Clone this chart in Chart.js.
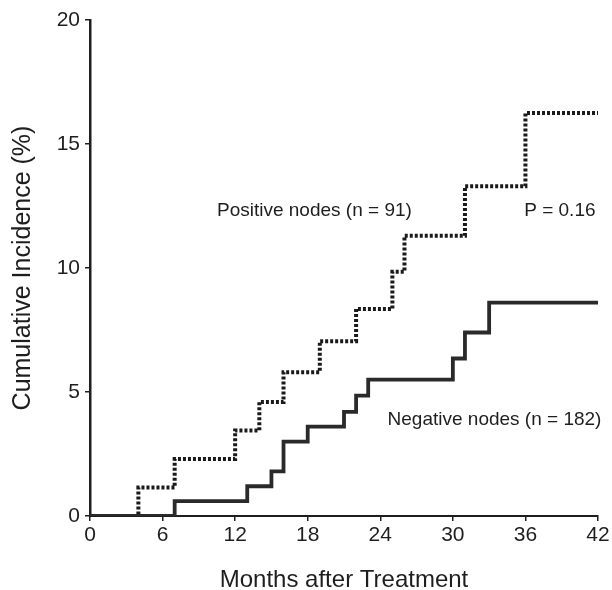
<!DOCTYPE html>
<html>
<head>
<meta charset="utf-8">
<script src="https://cdn.jsdelivr.net/npm/chart.js@4/dist/chart.umd.min.js"></script>
<style>
  html, body { margin: 0; padding: 0; background: #fff; }
  #wrap { width: 612px; height: 590px; }
</style>
</head>
<body>
<div id="wrap"><canvas id="myChart" width="612" height="590"></canvas></div>
<script>
// step points: month of the jump and the new cumulative incidence (%)
const posMonths = [0, 4, 7, 12, 14, 16, 19, 22, 25, 26, 31, 36, 42];
const posIncidence = [0, 1.15, 2.3, 3.45, 4.6, 5.8, 7.05, 8.35, 9.85, 11.3, 13.3, 16.25, 16.25];
const negMonths = [0, 7, 13, 15, 16, 18, 21, 22, 23, 30, 31, 33, 42];
const negIncidence = [0, 0.6, 1.2, 1.8, 3.0, 3.6, 4.2, 4.85, 5.5, 6.35, 7.4, 8.6, 8.6];
const xTicks = [0, 6, 12, 18, 24, 30, 36, 42];
const yTicks = [0, 5, 10, 15, 20];

const ink = '#1e1e1e';
const fontFam = '"Liberation Sans", Arial, Helvetica, sans-serif';

function toPoints(xs, ys) {
  return xs.map(function (m, i) { return { x: m, y: ys[i] }; });
}

// text notes placed in data coordinates
const notes = [
  { text: 'Positive nodes (n = 91)', x: 10.5, y: 12.3 },
  { text: 'P = 0.16', x: 35.9, y: 12.3 },
  { text: 'Negative nodes (n = 182)', x: 24.6, y: 3.9 }
];

const notePlugin = {
  id: 'notes',
  afterDatasetsDraw(chart) {
    const ctx = chart.ctx;
    const xs = chart.scales.x, ys = chart.scales.y;
    ctx.save();
    ctx.fillStyle = ink;
    ctx.font = '19px ' + fontFam;
    ctx.textBaseline = 'middle';
    ctx.textAlign = 'left';
    notes.forEach(function (n) {
      ctx.fillText(n.text, xs.getPixelForValue(n.x), ys.getPixelForValue(n.y));
    });
    ctx.restore();
  }
};

const data = {
  datasets: [{
    label: 'Negative nodes',
    data: toPoints(negMonths, negIncidence),
    stepped: true,
    borderColor: '#2a2a2a',
    borderWidth: 3.8,
    pointRadius: 0,
    fill: false
  }, {
    label: 'Positive nodes',
    data: toPoints(posMonths, posIncidence),
    stepped: true,
    borderColor: '#1a1a1a',
    borderWidth: 4,
    borderDash: [3, 2],
    borderCapStyle: 'butt',
    pointRadius: 0,
    fill: false
  }]
};

const config = {
  type: 'line',
  data: data,
  options: {
    responsive: false,
    animation: false,
    layout: { padding: { left: 0, right: 14, top: 20, bottom: 0 } },
    plugins: {
      legend: { display: false },
      tooltip: { enabled: false }
    },
    scales: {
      x: {
        type: 'linear',
        min: 0,
        max: 42,
        afterBuildTicks: function (s) { s.ticks = xTicks.map(function (v) { return { value: v }; }); },
        afterFit: function (s) { s.height = 74; },
        grid: { drawOnChartArea: false, drawTicks: true, tickLength: 5, color: ink, lineWidth: 1.5 },
        border: { display: true, color: ink, width: 2 },
        ticks: { color: ink, font: { size: 21, family: fontFam }, padding: 2, maxRotation: 0 },
        title: { display: true, text: 'Months after Treatment', color: ink, font: { size: 24, family: fontFam }, padding: { top: 10, bottom: -5 } }
      },
      y: {
        min: 0,
        max: 20,
        afterBuildTicks: function (s) { s.ticks = yTicks.map(function (v) { return { value: v }; }); },
        afterFit: function (s) { s.width = 90; },
        grid: { drawOnChartArea: false, drawTicks: true, tickLength: 5, color: ink, lineWidth: 1.5 },
        border: { display: true, color: ink, width: 2.5 },
        ticks: { color: ink, font: { size: 21, family: fontFam }, padding: 5 },
        title: { display: true, text: 'Cumulative Incidence (%)', color: ink, font: { size: 25, family: fontFam }, padding: { top: 8, bottom: 8 } }
      }
    }
  },
  plugins: [notePlugin]
};

const myChart = new Chart(document.getElementById('myChart'), config);
</script>
</body>
</html>
